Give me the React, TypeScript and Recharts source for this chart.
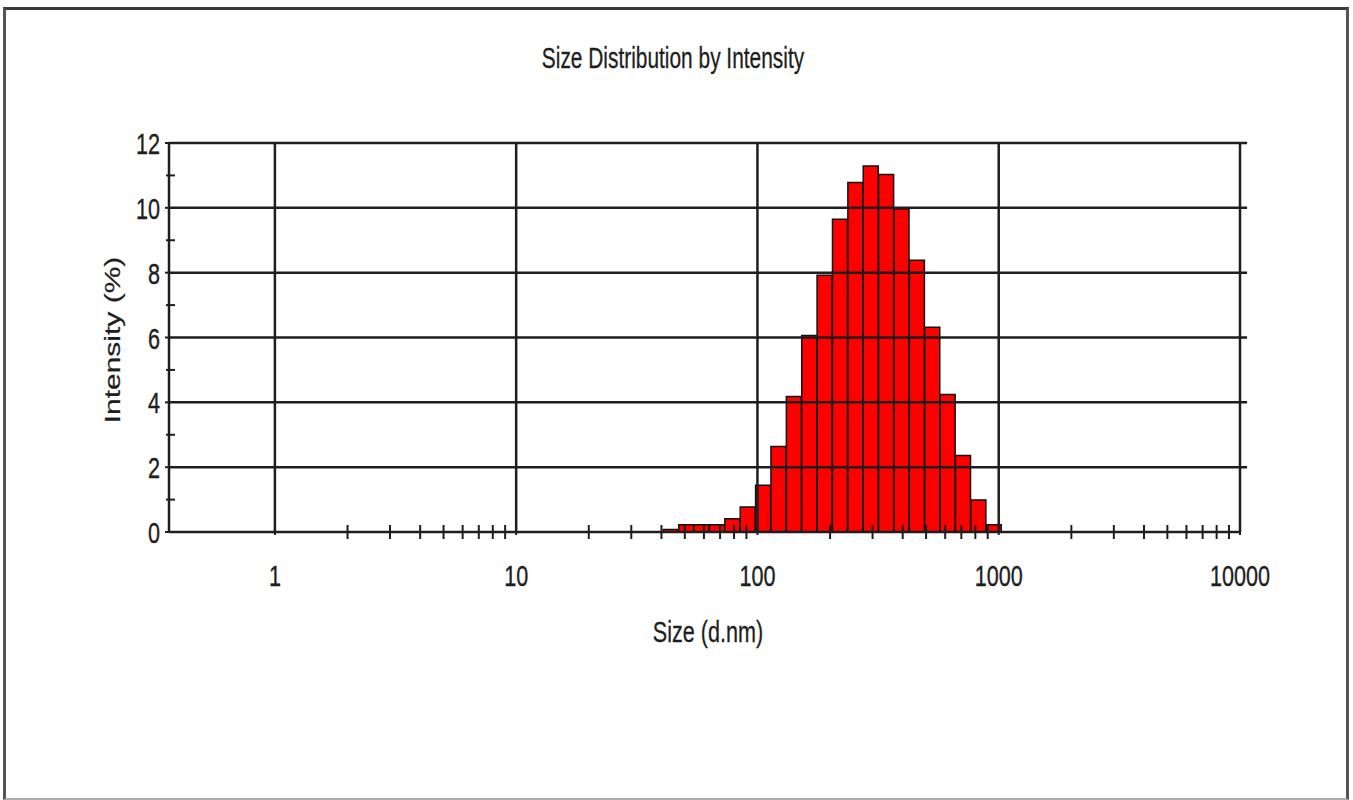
import React from "react"
import { ComposedChart, Bar, XAxis, YAxis, ReferenceLine } from "recharts"

// size classes (d.nm) and intensity (%)
const sizes = [43.82, 50.75, 58.77, 68.06, 78.82, 91.28, 105.7, 122.4, 141.8, 164.2, 190.1, 220.2, 255.0, 295.3, 342.0, 396.1, 458.7, 531.2, 615.1, 712.4, 825.0, 955.4]
const intensity = [0.08, 0.22, 0.22, 0.22, 0.41, 0.77, 1.44, 2.64, 4.18, 6.06, 7.92, 9.65, 10.78, 11.29, 11.03, 9.97, 8.38, 6.32, 4.24, 2.36, 0.99, 0.22]

const majorX = [1, 10, 100, 1000, 10000]
const minorX = [
  2, 3, 4, 5, 6, 7, 8, 9,
  20, 30, 40, 50, 60, 70, 80, 90,
  200, 300, 400, 500, 600, 700, 800, 900,
  2000, 3000, 4000, 5000, 6000, 7000, 8000, 9000,
]
const xTicks = [...majorX, ...minorX].sort((a, b) => a - b)
const yTicks = [0, 1, 2, 3, 4, 5, 6, 7, 8, 9, 10, 11, 12]
const yGrid = [2, 4, 6, 8, 10, 12]

const X_MIN = 0.364
const X_MAX = 10000
const GRID_END = 10700 // horizontal rules run a little past the right frame

const data = sizes.map((s, i) => ({ size: s, intensity: intensity[i] }))

const INK = "#1e1e1e"
const FONT = "'Liberation Sans', Arial, sans-serif"

function XTick({ x, y, payload }: any) {
  const v = payload.value
  if (majorX.includes(v)) {
    return (
      <g>
        <line x1={x} x2={x} y1={y} y2={y + 3} stroke={INK} strokeWidth={2} />
        <text transform={`translate(${x},${y + 54}) scale(0.72,1)`} textAnchor="middle"
          fontSize={30} fontFamily={FONT} fill={INK} stroke={INK} strokeWidth={0.4}>{v}</text>
      </g>
    )
  }
  return <line x1={x} x2={x} y1={y - 7} y2={y + 7} stroke={INK} strokeWidth={2} />
}

function YTick({ x, y, payload }: any) {
  const v = payload.value
  if (v % 2 === 0) {
    return (
      <g>
        <line x1={x - 4} x2={x} y1={y} y2={y} stroke={INK} strokeWidth={2} />
        <text transform={`translate(${x - 9},${y + 11}) scale(0.72,1)`} textAnchor="end"
          fontSize={30} fontFamily={FONT} fill={INK} stroke={INK} strokeWidth={0.4}>{v}</text>
      </g>
    )
  }
  return <line x1={x - 3} x2={x + 6} y1={y} y2={y} stroke={INK} strokeWidth={2} />
}

const textStyle: React.CSSProperties = {
  position: "absolute", fontFamily: FONT, fontSize: 30, lineHeight: "30px",
  color: INK, textAlign: "center", whiteSpace: "nowrap",
  WebkitTextStroke: "0.3px " + INK,
}

export default function App() {
  return (
    <div style={{ position: "relative", width: 1353, height: 800, background: "#fff" }}>
      <style>{"body{margin:0}"}</style>
      <div style={{
        position: "absolute", left: 3, top: 7, width: 1340, height: 788,
        borderTop: "3px solid #3a3a3a", borderLeft: "3px solid #555",
        borderRight: "3px solid #555", borderBottom: "2px solid #aaa",
      }} />
      <div style={{ ...textStyle, left: 473, width: 400, top: 43, fontSize: 29, transform: "scaleX(0.72)" }}>
        Size Distribution by Intensity
      </div>
      <div style={{ ...textStyle, left: 13, width: 200, top: 325, transform: "rotate(-90deg) scaleY(0.72)" }}>
        Intensity (%)
      </div>
      <div style={{ ...textStyle, left: 608, width: 200, top: 617, transform: "scaleX(0.72)" }}>
        Size (d.nm)
      </div>
      <div style={{ position: "absolute", left: 0, top: 0 }}>
        <ComposedChart width={1353} height={800} data={data}
          margin={{ top: 143, right: 113, bottom: 208, left: 109 }}
          barCategoryGap={0} barGap={0}>
          <XAxis dataKey="size" type="number" scale="log" domain={[X_MIN, X_MAX]} allowDataOverflow
            ticks={xTicks} interval={0} tick={<XTick />} tickLine={false} tickSize={0} tickMargin={0}
            height={60} axisLine={{ stroke: INK, strokeWidth: 2.5 }} />
          <YAxis type="number" domain={[0, 12]} ticks={yTicks} interval={0} tick={<YTick />}
            tickLine={false} tickSize={0} tickMargin={0} width={60}
            axisLine={{ stroke: INK, strokeWidth: 2.5 }} />
          {majorX.map((v) => (
            <ReferenceLine key={"x" + v} x={v} stroke={INK} strokeWidth={2.5} />
          ))}
          {yGrid.map((v) => (
            <ReferenceLine key={"y" + v} ifOverflow="visible" stroke={INK} strokeWidth={2.5}
              segment={[{ x: X_MIN, y: v }, { x: GRID_END, y: v }]} />
          ))}
          <Bar dataKey="intensity" fill="#ff0000" stroke="#111" strokeWidth={1.5} isAnimationActive={false} />
        </ComposedChart>
      </div>
    </div>
  )
}
